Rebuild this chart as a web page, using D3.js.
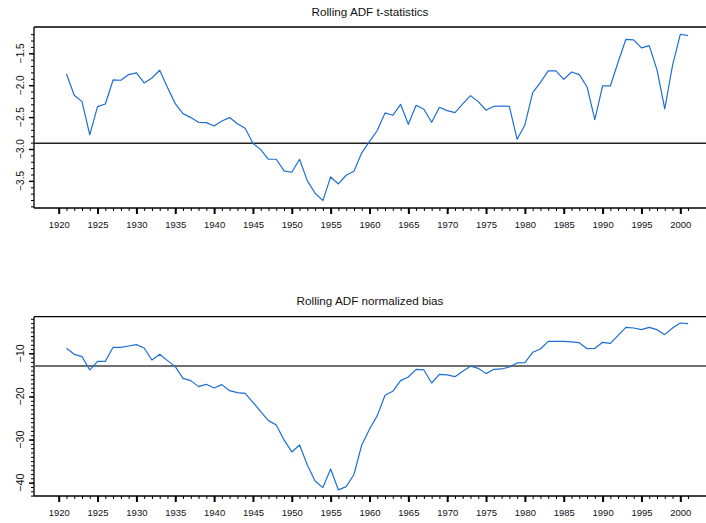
<!DOCTYPE html>
<html>
<head>
<meta charset="utf-8">
<script src="https://cdn.jsdelivr.net/npm/d3@7"></script>
<style>
  html, body { margin: 0; padding: 0; background: #fff; }
  svg { display: block; }
  text { font-family: "Liberation Sans", Arial, sans-serif; fill: #111; }
</style>
</head>
<body>
<script>
// Rolling ADF statistics, one value per year
const years = d3.range(1921, 2002);

const tStats = [
  -1.824, -2.158, -2.258, -2.78, -2.336, -2.294, -1.918, -1.923, -1.834, -1.808,
  -1.965, -1.887, -1.766, -2.038, -2.289, -2.446, -2.508, -2.582, -2.587, -2.639,
  -2.561, -2.508, -2.603, -2.676, -2.911, -3.01, -3.161, -3.161, -3.344, -3.365,
  -3.161, -3.50, -3.694, -3.809, -3.438, -3.548, -3.412, -3.35, -3.06, -2.88,
  -2.71, -2.435, -2.472, -2.30, -2.613, -2.315, -2.378, -2.582, -2.346, -2.399,
  -2.43, -2.294, -2.164, -2.258, -2.393, -2.331, -2.326, -2.331, -2.848, -2.623,
  -2.117, -1.955, -1.777, -1.777, -1.908, -1.793, -1.834, -2.028, -2.54, -2.012,
  -2.012, -1.636, -1.281, -1.291, -1.416, -1.38, -1.761, -2.373, -1.688, -1.202,
  -1.223
];

const normBias = [
  -8.84, -10.23, -10.77, -13.86, -11.85, -11.85, -8.61, -8.61, -8.30, -7.99,
  -8.76, -11.55, -10.23, -11.70, -13.09, -15.80, -16.34, -17.73, -17.19, -18.04,
  -17.26, -18.66, -19.12, -19.27, -21.36, -23.52, -25.61, -26.62, -30.09, -32.87,
  -31.25, -35.89, -39.60, -41.14, -36.82, -41.68, -40.91, -38.1, -31.25, -27.62,
  -24.45, -19.74, -18.81, -16.34, -15.49, -13.71, -13.86, -16.88, -14.87, -15.02,
  -15.41, -14.17, -13.01, -13.48, -14.71, -13.71, -13.63, -13.17, -12.24, -12.16,
  -9.77, -9.0, -7.22, -7.22, -7.22, -7.37, -7.53, -8.92, -8.84, -7.45,
  -7.68, -5.83, -3.97, -4.13, -4.51, -3.97, -4.51, -5.67, -4.13, -2.97,
  -3.12
];

// 5% critical values drawn as reference lines
const tCritical = -2.91;
const biasCritical = -12.95;

const yearTicksMajor = d3.range(1920, 2001, 5);
const yearTicksMinor = d3.range(1920, 2002, 1);

const tTicksMajor = [-3.5, -3.0, -2.5, -2.0, -1.5];
const tTicksMinor = d3.range(-39, -11, 1).map(d => d / 10);
const biasTicksMajor = [-40, -30, -20, -10];
const biasTicksMinor = d3.range(-43, -1, 1);

const W = 706, H = 523;
const svg = d3.select("body").append("svg")
  .attr("width", W).attr("height", H);

const x = d3.scaleLinear().domain([1920, 2000]).range([58.7, 680.3]);
const left = 34, right = W;

function panel(opts) {
  const { top, bottom, title, values, domain, crit, critColor, critWidth,
          major, minor, fmt, titleY, labelSize } = opts;
  const y = d3.scaleLinear().domain(domain).range([bottom, top]);
  const g = svg.append("g");

  g.append("text")
    .attr("x", (left + right) / 2).attr("y", titleY)
    .attr("text-anchor", "middle")
    .style("font-size", "11.7px")
    .text(title);

  // frame: top rule, left axis, bottom axis
  g.append("line").attr("x1", left).attr("x2", right)
    .attr("y1", top).attr("y2", top)
    .attr("stroke", "#000").attr("stroke-width", 1.3);

  // x axis
  const xAxisMinor = d3.axisBottom(x).tickValues(yearTicksMinor)
    .tickSize(3).tickFormat("");
  const xAxisMajor = d3.axisBottom(x).tickValues(yearTicksMajor)
    .tickSize(6).tickPadding(7).tickFormat(d3.format("d"));
  const gxm = g.append("g").attr("transform", `translate(0,${bottom})`).call(xAxisMinor);
  gxm.select(".domain").remove();
  gxm.selectAll("line").attr("stroke", "#000").attr("stroke-width", 1);
  const gx = g.append("g").attr("transform", `translate(0,${bottom})`).call(xAxisMajor);
  gx.select(".domain").remove();
  gx.selectAll("line").attr("stroke", "#000").attr("stroke-width", 2);
  gx.selectAll("text").style("font-size", "9.5px")
    .style("font-family", "'Liberation Sans', Arial, sans-serif").attr("fill", "#111");
  g.append("line").attr("x1", left).attr("x2", right)
    .attr("y1", bottom).attr("y2", bottom)
    .attr("stroke", "#000").attr("stroke-width", 1.3);

  // y axis
  const yAxisMinor = d3.axisLeft(y).tickValues(minor).tickSize(3).tickFormat("");
  const yAxisMajor = d3.axisLeft(y).tickValues(major).tickSize(5).tickFormat("");
  const gym = g.append("g").attr("transform", `translate(${left},0)`).call(yAxisMinor);
  gym.select(".domain").remove();
  gym.selectAll("line").attr("stroke", "#000").attr("stroke-width", 1);
  const gy = g.append("g").attr("transform", `translate(${left},0)`).call(yAxisMajor);
  gy.select(".domain").remove();
  gy.selectAll("line").attr("stroke", "#000").attr("stroke-width", 1.4);
  g.selectAll(".ylab").data(major).enter().append("text")
    .attr("class", "ylab")
    .attr("transform", d => `translate(23.5,${y(d)}) rotate(-90)`)
    .attr("text-anchor", "middle")
    .style("font-size", labelSize)
    .text(fmt);
  g.append("line").attr("x1", left).attr("x2", left)
    .attr("y1", top).attr("y2", bottom)
    .attr("stroke", "#000").attr("stroke-width", 1.3);

  // critical value line
  g.append("line").attr("x1", left).attr("x2", right)
    .attr("y1", y(crit)).attr("y2", y(crit))
    .attr("stroke", critColor).attr("stroke-width", critWidth);

  // series
  const line = d3.line().x((d, i) => x(years[i])).y(d => y(d));
  g.append("path").datum(values)
    .attr("d", line)
    .attr("fill", "none")
    .attr("stroke", "#1e6fd2")
    .attr("stroke-width", 1.2)
    .attr("stroke-linejoin", "round");
}

panel({
  top: 27, bottom: 208, titleY: 16,
  title: "Rolling ADF t-statistics",
  values: tStats, domain: [-3.925, -1.088],
  crit: tCritical, critColor: "#222", critWidth: 1.6,
  major: tTicksMajor, minor: tTicksMinor, fmt: d3.format(".1f"),
  labelSize: "10px"
});

panel({
  top: 316.7, bottom: 496, titleY: 305,
  title: "Rolling ADF normalized bias",
  values: normBias, domain: [-43.09, -1.51],
  crit: biasCritical, critColor: "#707070", critWidth: 2,
  major: biasTicksMajor, minor: biasTicksMinor, fmt: d3.format("d"),
  labelSize: "10.8px"
});
</script>
</body>
</html>
